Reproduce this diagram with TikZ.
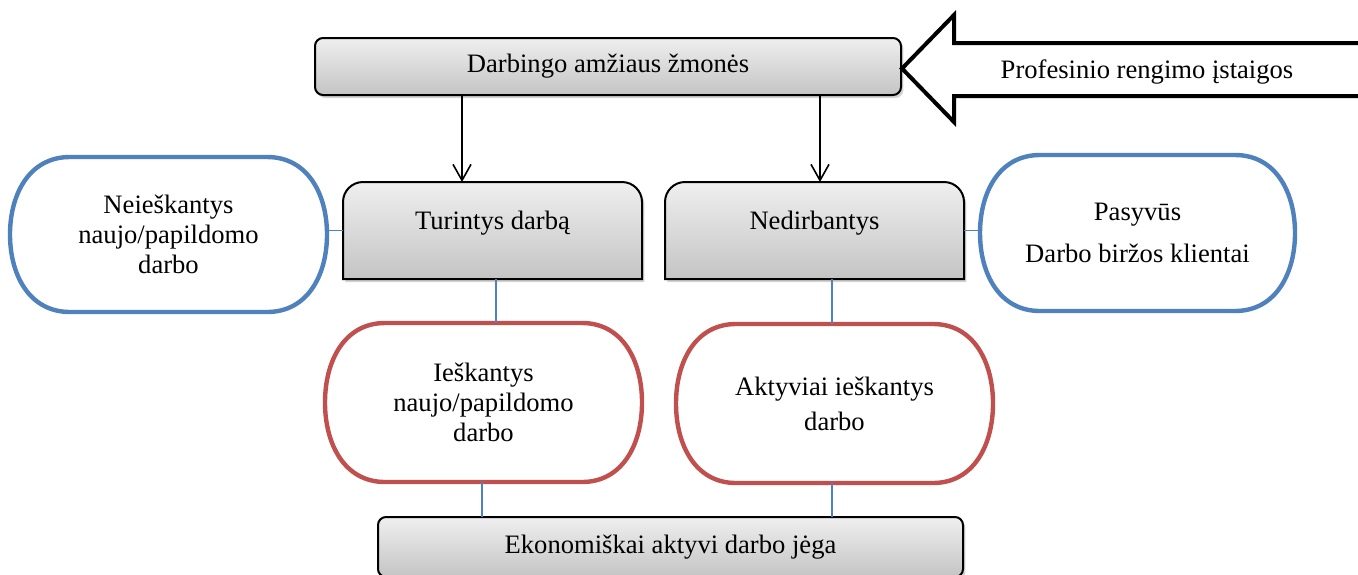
\documentclass[tikz,border=0pt]{standalone}
\usepackage{fontspec}
\setmainfont{Liberation Serif}
\usetikzlibrary{calc,shadows,arrows.meta}
\pgfdeclarelayer{bg}
\pgfsetlayers{bg,main}
\definecolor{oblue}{HTML}{4F81BD}
\definecolor{ored}{HTML}{C0504D}
\definecolor{gtop}{HTML}{EFEFEF}
\definecolor{gbot}{HTML}{C4C4C4}
\newcommand\capsule[3]{%
  \draw[capline, draw=#1] ($(#2.north west)+(#3,0)$) -- ($(#2.north east)+(-#3,0)$)
    .. controls ($(#2.north east)+(-0.32*#3,0)$) and ($(#2.east)!0.52!(#2.north east)$) .. (#2.east)
    .. controls ($(#2.east)!0.52!(#2.south east)$) and ($(#2.south east)+(-0.32*#3,0)$) .. ($(#2.south east)+(-#3,0)$)
    -- ($(#2.south west)+(#3,0)$)
    .. controls ($(#2.south west)+(0.32*#3,0)$) and ($(#2.west)!0.52!(#2.south west)$) .. (#2.west)
    .. controls ($(#2.west)!0.52!(#2.north west)$) and ($(#2.north west)+(0.32*#3,0)$) .. cycle;}
\newcommand\tabbox[1]{%
  \path[tabstyle] (#1.south west) [rounded corners=10pt] -- (#1.north west) -- (#1.north east) [sharp corners] -- (#1.south east) -- cycle;}
\begin{document}
\begin{tikzpicture}[x=0.5pt,y=-0.5pt,
  font=\fontsize{13.3}{15}\selectfont,
  txt/.style={align=center, inner sep=0pt, outer sep=0pt},
  gshadow/.style={drop shadow={opacity=0.35, shadow xshift=1.2pt, shadow yshift=-1.5pt}},
  gbox/.style={txt, draw=black, line width=1pt, top color=gtop, bottom color=gbot, rounded corners=4pt, gshadow},
  tabstyle/.style={draw=black, line width=1pt, top color=gtop, bottom color=gbot, gshadow},
  capline/.style={line width=2.2pt, fill=white},
  conn/.style={draw=oblue, line width=0.8pt},
  arr/.style={line width=0.8pt, -{Straight Barb[length=8pt,width=9pt]}},
  bigarrow/.style={line width=2pt, line join=miter}]
\useasboundingbox (0,0) rectangle (1358,574);

\node[gbox, minimum width=293pt, minimum height=28.5pt] (top) at (608,66.5) {Darbingo amžiaus žmonės};
\node[txt, minimum width=149.5pt, text height=23.5pt, text depth=25pt] (tur) at (492.5,230.5) {Turintys darbą};
\node[txt, minimum width=149.5pt, text height=23.5pt, text depth=25pt] (ned) at (814.5,230.5) {Nedirbantys};
\node[txt, minimum width=158.5pt, minimum height=77.5pt] (nei) at (168.5,234.5) {Neieškantys\\naujo/papildomo\\darbo};
\node[txt, minimum width=157.5pt, minimum height=78pt] (pas) at (1137.5,233) {Pasyvūs\\[6pt]Darbo biržos klientai};
\node[txt, minimum width=158.5pt, minimum height=79.5pt] (ies) at (483.5,402.5) {Ieškantys\\naujo/papildomo\\darbo};
\node[txt, minimum width=158.5pt, minimum height=79.5pt] (akt) at (834.5,403.5) {Aktyviai ieškantys\\[2.5pt]darbo};
\node[gbox, minimum width=292.5pt, minimum height=30pt] (eko) at (670.5,547) {Ekonomiškai aktyvi darbo jėga};

\node[txt] (prof) at (1147,72) {Profesinio rengimo įstaigos};
\draw[bigarrow] (1372,43) -- (954,43) -- (954,15) -- (902,68.5) -- (954,122) -- (954,96) -- (1372,96);

\begin{pgfonlayer}{bg}
\capsule{oblue}{nei}{60}
\capsule{oblue}{pas}{60}
\capsule{ored}{ies}{60}
\capsule{ored}{akt}{60}
\tabbox{tur}
\tabbox{ned}
\end{pgfonlayer}

\coordinate (c1) at (462,0);
\coordinate (c2) at (820,0);
\coordinate (c3) at (496,0);
\coordinate (c4) at (482,0);
\coordinate (c5) at (832,0);
\draw[arr] (top.south -| c1) -- (tur.north -| c1);
\draw[arr] (top.south -| c2) -- (ned.north -| c2);
\draw[conn] (nei.east |- tur.west) -- (tur.west);
\draw[conn] (ned.east) -- (pas.west |- ned.east);
\draw[conn] (tur.south -| c3) -- (ies.north -| c3);
\draw[conn] (ned.south -| c5) -- (akt.north -| c5);
\draw[conn] (ies.south -| c4) -- (eko.north -| c4);
\draw[conn] (akt.south -| c5) -- (eko.north -| c5);
\end{tikzpicture}
\end{document}
